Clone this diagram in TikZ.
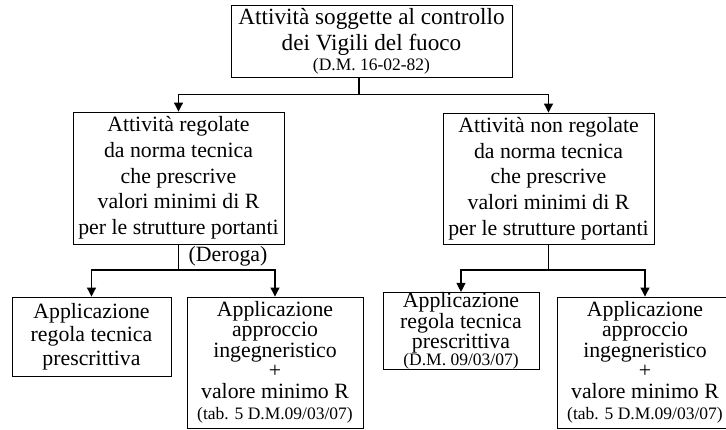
\documentclass[tikz,border=0pt]{standalone}
\usepackage{fontspec}
\setmainfont{Liberation Serif}
\usetikzlibrary{arrows.meta}
\begin{document}
\begin{tikzpicture}[x=1pt,y=-1pt,
  box/.style={draw,line width=0.9pt,rectangle,inner sep=0pt,align=center,
    font=\fontsize{21.8}{25.7}\selectfont},
  conn/.style={line width=1.1pt},
  arr/.style={conn,-{Triangle[length=9pt,width=9pt]}}]
\useasboundingbox (0,0) rectangle (726,430);
% top box
\node[box,minimum width=281pt,minimum height=72pt,
  font=\fontsize{23.2}{26}\selectfont] (top) at (371.5,41)
  {Attività soggette al controllo\\dei Vigili del fuoco\\[-6pt]{\fontsize{17.5}{20}\selectfont (D.M. 16-02-82)}};
% middle boxes
\node[box,minimum width=211pt,minimum height=132pt] (ml) at (178.5,178)
  {Attività regolate\\da norma tecnica\\che prescrive\\valori minimi di R\\per le strutture portanti};
\node[box,minimum width=211pt,minimum height=131pt] (mr) at (548.5,178.5)
  {Attività non regolate\\da norma tecnica\\che prescrive\\valori minimi di R\\per le strutture portanti};
% bottom boxes
\node[box,minimum width=159pt,minimum height=79pt,
  font=\fontsize{21.8}{23.5}\selectfont] (b1) at (91.5,336.5)
  {Applicazione\\regola tecnica\\prescrittiva};
\node[box,minimum width=176pt,minimum height=131pt,
  font=\fontsize{21.8}{20.5}\selectfont] (b2) at (275,362.5)
  {Applicazione\\approccio\\ingegneristico\\+\\valore minimo R\\[1pt]{\fontsize{17.5}{20}\selectfont (tab. 5 D.M.09/03/07)}};
\node[box,minimum width=156pt,minimum height=68pt,
  font=\fontsize{21.8}{18.5}\selectfont] (b3) at (461,331)
  {Applicazione\\regola tecnica\\prescrittiva\\[-1pt]{\fontsize{17.5}{20}\selectfont (D.M. 09/03/07)}};
\node[box,minimum width=176pt,minimum height=131pt,
  font=\fontsize{21.8}{20.5}\selectfont] (b4) at (645,362.5)
  {Applicazione\\approccio\\ingegneristico\\+\\valore minimo R\\[1pt]{\fontsize{17.5}{20}\selectfont (tab. 5 D.M.09/03/07)}};
% label
\node[font=\fontsize{21.8}{25.7}\selectfont,inner sep=0pt] (der) at (228,256) {(Deroga)};
% junctions
\coordinate (j0) at (359,94.5);
\coordinate (jl) at (178.5,270);
\coordinate (jr) at (548.5,270);
\draw[conn] (top.south -| j0) -- (j0);
\draw[arr] (j0) -| (ml.north);
\draw[arr] (j0) -| (mr.north);
\draw[conn] (ml.south) -- (jl);
\draw[arr] (jl) -| (b1.north);
\draw[arr] (jl) -| (b2.north);
\draw[conn] (mr.south) -- (jr);
\draw[arr] (jr) -| (b3.north);
\draw[arr] (jr) -| (b4.north);
\end{tikzpicture}
\end{document}
